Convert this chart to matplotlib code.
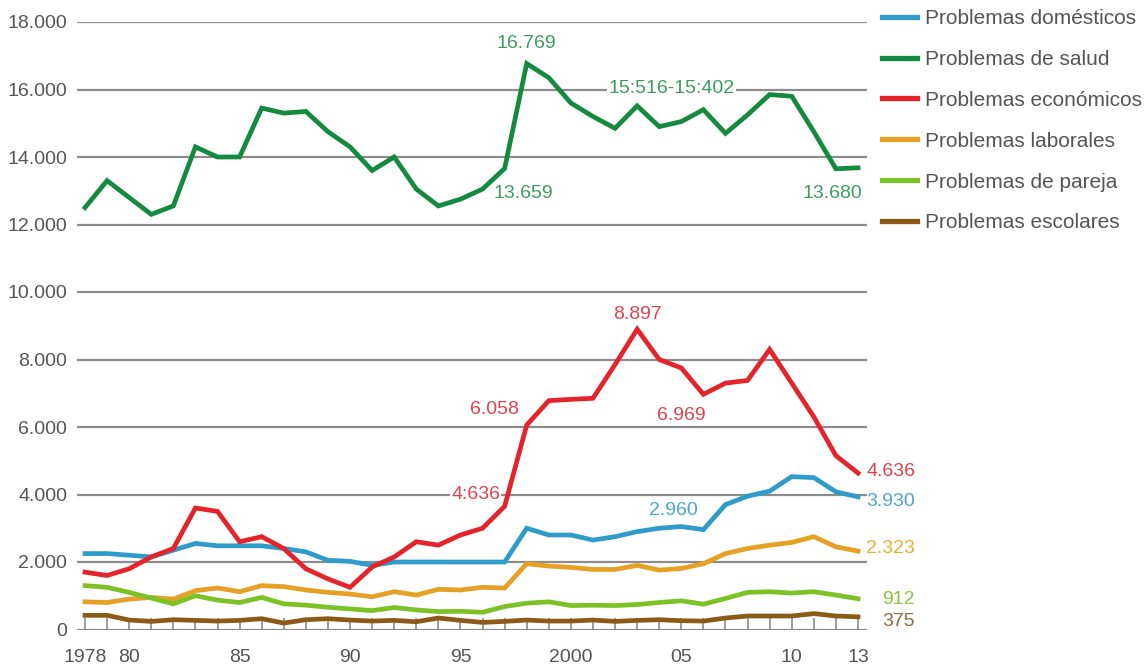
import matplotlib
matplotlib.use("Agg")
import matplotlib.pyplot as plt

plt.rcParams['font.family'] = ['Liberation Sans', 'DejaVu Sans']

years = list(range(1978, 2014))

domesticos = [2250, 2250, 2200, 2150, 2350, 2550, 2480, 2480, 2480, 2400,
              2300, 2050, 2020, 1900, 2000, 2000, 2000, 2000, 2000, 2000,
              3000, 2800, 2800, 2650, 2750, 2900, 3000, 3050, 2960, 3700,
              3950, 4100, 4530, 4500, 4080, 3930]
salud = [12500, 13300, 12800, 12300, 12550, 14300, 14000, 14000, 15450, 15300,
         15350, 14750, 14300, 13600, 14000, 13050, 12550, 12750, 13050, 13659,
         16769, 16350, 15600, 15200, 14850, 15516, 14900, 15050, 15402, 14700,
         15250, 15850, 15800, 14750, 13650, 13680]
economicos = [1700, 1600, 1800, 2150, 2400, 3600, 3500, 2600, 2750, 2400,
              1800, 1500, 1250, 1850, 2150, 2600, 2500, 2800, 3000, 3650,
              6058, 6780, 6820, 6850, 7850, 8897, 8000, 7750, 6969, 7300,
              7380, 8300, 7300, 6300, 5150, 4636]
laborales = [820, 800, 900, 950, 900, 1150, 1230, 1120, 1300, 1270,
             1170, 1100, 1050, 970, 1120, 1020, 1190, 1170, 1250, 1230,
             1950, 1880, 1840, 1780, 1780, 1900, 1760, 1810, 1950, 2250,
             2400, 2500, 2580, 2750, 2450, 2323]
pareja = [1300, 1250, 1100, 930, 760, 1000, 870, 800, 950, 760,
          720, 660, 610, 560, 650, 580, 530, 540, 510, 680,
          780, 820, 710, 720, 710, 740, 800, 850, 750, 920,
          1100, 1120, 1080, 1120, 1020, 912]
escolares = [420, 420, 280, 240, 290, 270, 250, 270, 320, 190,
             290, 320, 280, 250, 270, 230, 340, 270, 210, 240,
             280, 250, 250, 280, 240, 270, 290, 260, 250, 340,
             400, 400, 400, 470, 400, 375]

names = ['Problemas domésticos', 'Problemas de salud', 'Problemas económicos',
         'Problemas laborales', 'Problemas de pareja', 'Problemas escolares']
line_colors = ['#2f9bcb', '#138a3d', '#e5232b', '#e6a023', '#7cc226', '#8a5a16']
text_colors = ['#4ea5cc', '#3c9e5c', '#e0434d', '#e6b035', '#87c540', '#8c6c42']

# only some years carry a label, the rest get a bare tick
year_names = {1978: '1978', 1980: '80', 1985: '85', 1990: '90', 1995: '95',
              2000: '2000', 2005: '05', 2010: '10', 2013: '13'}
xtick_labels = [year_names.get(y, '') for y in years]

fig = plt.figure(figsize=(11.47, 6.69), dpi=100)
ax = fig.add_axes([77 / 1147, (669 - 629.5) / 669, 790 / 1147, 607.5 / 669])

series = [domesticos, salud, economicos, laborales, pareja, escolares]
for vals, name, col in zip(series, names, line_colors):
    ax.plot(years, vals, color=col, lw=3.4, label=name, solid_joinstyle='miter',
            zorder=3)

ax.set_xlim(1978 - 8 / 22.09, 2013 + 9 / 22.09)
ax.set_ylim(0, 18000)
yt = list(range(0, 18001, 2000))
ax.set_yticks(yt)
ax.set_yticklabels(['{:,}'.format(v).replace(',', '.') for v in yt])
ax.yaxis.grid(True, color='#8c8c8c', lw=1.6, zorder=1)
ax.set_axisbelow(True)
for s in ax.spines.values():
    s.set_visible(False)

ax.set_xticks(years)
ax.set_xticklabels(xtick_labels)
ax.tick_params(axis='x', direction='in', length=9, width=1.2, color='#8c8c8c',
               pad=14, labelsize=14, labelcolor='#555555')
ax.tick_params(axis='y', length=0, pad=7, labelsize=14, labelcolor='#555555')
for t in ax.xaxis.get_major_ticks():
    t.tick1line.set_zorder(5)


def label(year, vals, text, dx, dy, color, ha='center', box=False):
    i = years.index(year)
    kw = {}
    if box:
        kw['bbox'] = dict(facecolor='white', edgecolor='none', pad=1)
    ax.annotate(text, xy=(year, vals[i]), xytext=(dx * 0.72, dy * 0.72),
                textcoords='offset points', ha=ha, va='center', fontsize=14,
                color=color, annotation_clip=False, zorder=4, **kw)


# salud
label(1998, salud, '16.769', 0, 20, text_colors[1])
label(1997, salud, '13.659', 19, -25, text_colors[1])
label(2003, salud, '15:516-15:402', 34, 17, text_colors[1], box=True)
label(2013, salud, '13.680', -26, -26, text_colors[1])
# económicos
label(2003, economicos, '8.897', 0, 15, text_colors[2])
label(1998, economicos, '6.058', -32, 16, text_colors[2])
label(2006, economicos, '6.969', -22, -21, text_colors[2])
label(1997, economicos, '4:636', -29, 12, text_colors[2], box=True)
label(2013, economicos, '4.636', 57, 2, text_colors[2], ha='right')
# domésticos
label(2006, domesticos, '2.960', -30, 19, text_colors[0])
label(2013, domesticos, '3.930', 57, -5, text_colors[0], ha='right')
# resto
label(2013, laborales, '2.323', 57, 3, text_colors[3], ha='right')
label(2013, pareja, '912', 57, -1, text_colors[4], ha='right')
label(2013, escolares, '375', 57, -5, text_colors[5], ha='right')

fig.legend(loc='upper left', bbox_to_anchor=(882 / 1147, 1 - 9 / 669),
           frameon=False, fontsize=15, handlelength=1.7, handletextpad=0.35,
           labelspacing=1.05, borderpad=0, borderaxespad=0,
           labelcolor='#555555')
for lh in fig.legends[0].get_lines():
    lh.set_linewidth(3.8)

fig.savefig('out.png', dpi=100)
